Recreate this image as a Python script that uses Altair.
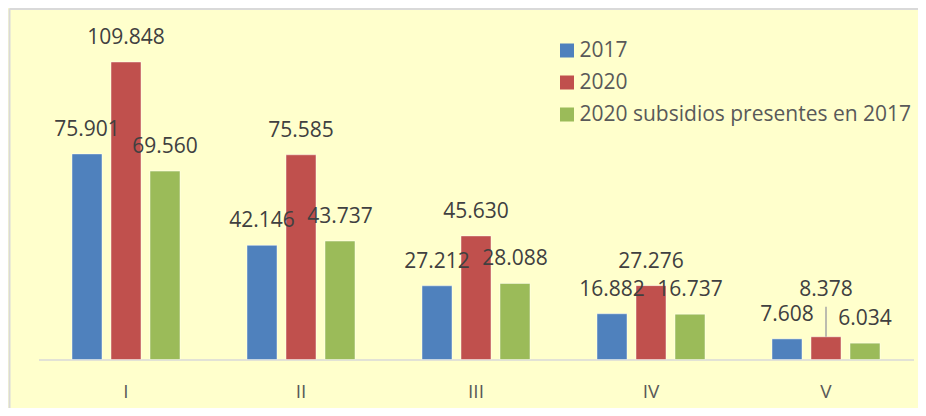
import altair as alt
import pandas as pd

categories = ["I", "II", "III", "IV", "V"]
series = ["2017", "2020", "2020 subsidios presentes en 2017"]
values_2017 = [75.901, 42.146, 27.212, 16.882, 7.608]
values_2020 = [109.848, 75.585, 45.630, 27.276, 8.378]
values_2020_sub = [69.560, 43.737, 28.088, 16.737, 6.034]
colors = ["#4F81BD", "#C0504D", "#9BBB59"]

rows = []
for s, vals in zip(series, [values_2017, values_2020, values_2020_sub]):
    for c, v in zip(categories, vals):
        rows.append({"cat": c, "serie": s, "value": v})
df = pd.DataFrame(rows)

FONT = "Open Sans"

x = alt.X("cat:N", sort=categories,
          scale=alt.Scale(paddingInner=0, paddingOuter=0),
          axis=alt.Axis(title=None, labelAngle=0, ticks=False, grid=False,
                        domainColor="#D9D9D9", domainWidth=1.5,
                        labelFont=FONT, labelFontSize=19, labelColor="#595959",
                        labelBaseline="alphabetic", labelPadding=38))
xo = alt.XOffset("serie:N", sort=series,
                 scale=alt.Scale(paddingInner=0.2308, paddingOuter=0.859))
y = alt.Y("value:Q", scale=alt.Scale(domain=[0, 120], nice=False), axis=None)

base = alt.Chart(df)

bars = base.mark_bar(stroke="#FFFFFF", strokeOpacity=0.45, strokeWidth=1).encode(
    x=x, xOffset=xo, y=y,
    color=alt.Color("serie:N", sort=series,
                    scale=alt.Scale(domain=series, range=colors),
                    legend=alt.Legend(title=None, orient="none", legendX=518, legendY=5.5,
                                      symbolType="square", symbolSize=196,
                                      symbolStrokeWidth=0, labelFont=FONT,
                                      labelFontSize=21, labelColor="#595959",
                                      labelOffset=2, rowPadding=10, padding=0,
                                      labelLimit=500)),
)

is_moved = (alt.datum.cat == "V") & (alt.datum.serie == "2020")

labels = base.mark_text(font=FONT, fontSize=21, color="#404040",
                        baseline="alphabetic", dy=-18).encode(
    x=x, xOffset=xo, y=y, text=alt.Text("value:Q", format=".3f")
).transform_filter(~is_moved)

moved_label = base.mark_text(font=FONT, fontSize=21, color="#404040",
                             baseline="alphabetic", dy=-41).encode(
    x=x, xOffset=xo, y=y, text=alt.Text("value:Q", format=".3f")
).transform_filter(is_moved)

leader = base.mark_rule(color="#A6A6A6", strokeWidth=1.5, y2Offset=-30).encode(
    x=x, xOffset=xo, y=y, y2="value:Q"
).transform_filter(is_moved)

border_left = alt.Chart(pd.DataFrame({"k": [0]})).mark_rule(
    color="#D9D9D9", strokeWidth=2).encode(
    x=alt.value(-29), y=alt.value(-26), y2=alt.value(400))
border_top = alt.Chart(pd.DataFrame({"k": [0]})).mark_rule(
    color="#D9D9D9", strokeWidth=2).encode(
    x=alt.value(-29), x2=alt.value(900), y=alt.value(-25.5))

chart = alt.layer(border_left, border_top, bars, leader, labels, moved_label).properties(
    width=875, height=325,
    autosize=alt.AutoSizeParams(type="none"),
    padding={"left": 30.5, "top": 26.5, "right": 4.5, "bottom": 48.5},
    background="#FFFFCC",
).configure_view(stroke=None)

chart.save("out.html", embed_options={"renderer": "svg", "actions": False})
